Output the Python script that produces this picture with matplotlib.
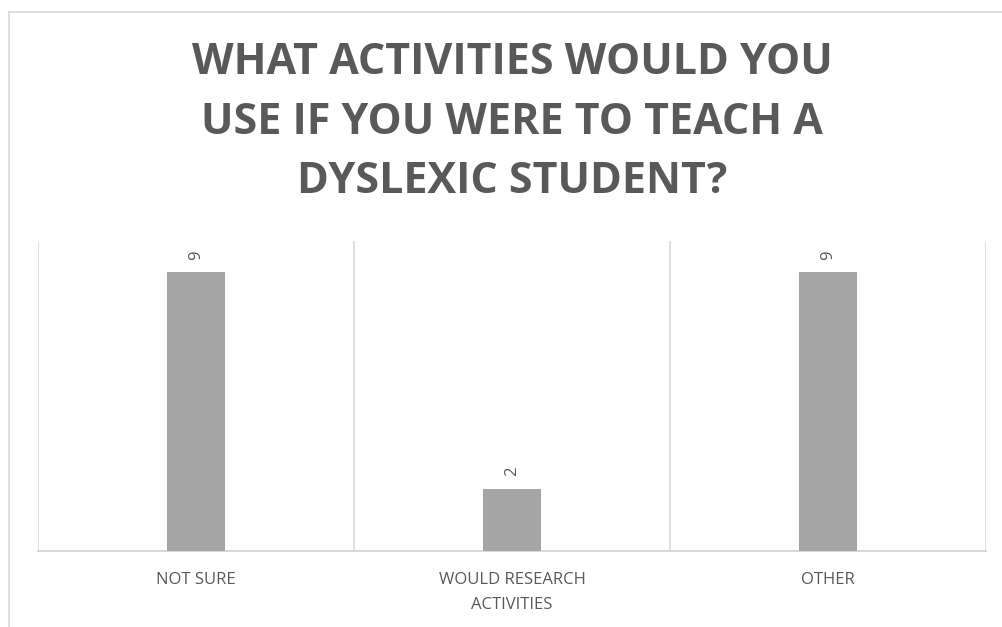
import matplotlib
matplotlib.use("Agg")
import matplotlib.pyplot as plt
from matplotlib.lines import Line2D

plt.rcParams['font.family'] = ['Open Sans', 'DejaVu Sans']

# data
categories = ['NOT SURE', 'WOULD RESEARCH\nACTIVITIES', 'OTHER']
counts = [9, 2, 9]
title = 'WHAT ACTIVITIES WOULD YOU\nUSE IF YOU WERE TO TEACH A\nDYSLEXIC STUDENT?'

text_col = '#595959'
bar_col = '#A5A5A5'
grid_col = '#D9D9D9'

fig = plt.figure(figsize=(10.02, 6.27), dpi=100)
ax = fig.add_axes([38 / 1002, 1 - 551 / 627, (986 - 38) / 1002, (551 - 241) / 627])

x = range(len(categories))
bars = ax.bar(x, counts, width=0.184, color=bar_col, zorder=3)

ax.set_xlim(-0.5, len(categories) - 0.5)
ax.set_ylim(0, 10)

# vertical separators between categories
for b in [-0.5, 0.5, 1.5, 2.5]:
    ax.axvline(b, color=grid_col, lw=1.2, zorder=1)

for s in ['top', 'left', 'right']:
    ax.spines[s].set_visible(False)
ax.spines['bottom'].set_color(grid_col)
ax.spines['bottom'].set_linewidth(1.5)

ax.set_yticks([])
ax.set_xticks(list(x))
ax.set_xticklabels(categories, color=text_col, fontsize=12, linespacing=1.75)
ax.tick_params(axis='x', length=0, pad=15)

for rect, v in zip(bars, counts):
    ax.annotate(str(v), (rect.get_x() + rect.get_width() / 2, v),
                xytext=(0, 9), textcoords='offset points',
                ha='center', va='bottom', rotation=90,
                color=text_col, fontsize=12)

fig.text(512 / 1002, 1 - 122 / 627, title, ha='center', va='center',
         fontsize=31, fontweight='bold', color=text_col, linespacing=1.5)

# chart frame
fig.add_artist(Line2D([9 / 1002, 1], [1 - 12 / 627, 1 - 12 / 627],
                      transform=fig.transFigure, color=grid_col, lw=1.2))
fig.add_artist(Line2D([9 / 1002, 9 / 1002], [0, 1 - 12 / 627],
                      transform=fig.transFigure, color=grid_col, lw=1.2))

fig.savefig('out.png', dpi=100)
